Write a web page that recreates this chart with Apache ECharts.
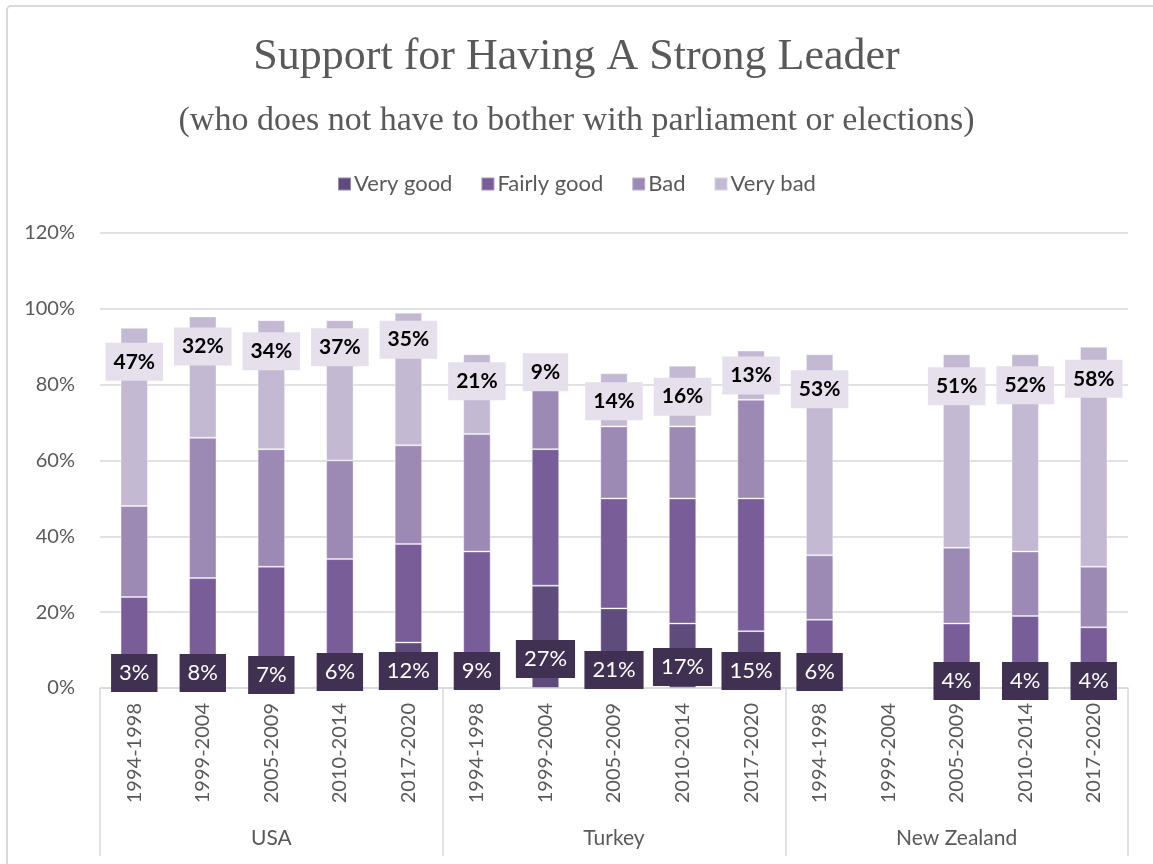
<!DOCTYPE html>
<html>
<head>
<meta charset="utf-8">
<script src="https://cdn.jsdelivr.net/npm/echarts@6/dist/echarts.min.js"></script>
<style>
  html, body { margin: 0; padding: 0; background: #ffffff; }
  #chart { width: 1153px; height: 864px; }
</style>
</head>
<body>
<div id="chart"></div>
<script>
// Periods and countries on the two-level category axis
const countries = ['USA', 'Turkey', 'New Zealand'];
const periods = ['1994-1998', '1999-2004', '2005-2009', '2010-2014', '2017-2020'];

// Shares (%) per country/period, in order USA x5, Turkey x5, New Zealand x5
const veryGood   = [3, 8, 7, 6, 12,   9, 27, 21, 17, 15,   6, null, 4, 4, 4];
const fairlyGood = [21, 21, 25, 28, 26,   27, 36, 29, 33, 35,   12, null, 13, 15, 12];
const bad        = [24, 37, 31, 26, 26,   31, 16, 19, 19, 26,   17, null, 20, 17, 16];
const veryBad    = [47, 32, 34, 37, 35,   21, 9, 14, 16, 13,   53, null, 51, 52, 58];

const yTicks = [0, 20, 40, 60, 80, 100, 120];

// Small vertical nudges (px) for the boxed value labels
const vgLabelShift = [1, 1, 3, 0, -1,   -1, -13, -2, -5, -1,   0, 0, 9, 9, 9];
const vbLabelShift = [4, 0, 1, -3, -3,   -3, -12, -2, 1, -5,   5, 0, 2, 1, 2];

const categories = [];
countries.forEach(() => periods.forEach(p => categories.push(p)));

const COLORS = {
  vg: '#5f4b7c',
  fg: '#785d98',
  bad: '#9c8ab5',
  vb: '#c3b9d3'
};
const FONT = 'Lato, "Noto Sans", sans-serif';
const GREY = '#595959';

function items(values, shifts) {
  return values.map((v, i) => {
    if (v == null) return '-';
    if (!shifts) return v;
    return { value: v, label: { offset: [0, shifts[i]] } };
  });
}

const barCommon = {
  type: 'bar',
  stack: 'total',
  barWidth: '40%',
  xAxisIndex: 0,
  itemStyle: { borderColor: 'rgba(255,255,255,0.35)', borderWidth: 1 }
};

const chart = echarts.init(document.getElementById('chart'), null, { renderer: 'canvas' });

chart.setOption({
  backgroundColor: '#ffffff',
  animation: false,
  title: [
    {
      text: 'Support for Having A Strong Leader',
      left: 'center',
      top: 30,
      textStyle: { fontFamily: '"Liberation Serif", serif', fontSize: 44, fontWeight: 'normal', color: GREY }
    },
    {
      text: '(who does not have to bother with parliament or elections)',
      left: 'center',
      top: 99,
      textStyle: { fontFamily: '"Liberation Serif", serif', fontSize: 34, fontWeight: 'normal', color: GREY }
    }
  ],
  legend: {
    top: 168,
    left: 'center',
    itemWidth: 13,
    itemHeight: 13,
    itemGap: 28,
    icon: 'rect',
    textStyle: { fontFamily: FONT, fontSize: 22, color: GREY, padding: [0, 0, 0, -2] },
    data: ['Very good', 'Fairly good', 'Bad', 'Very bad']
  },
  grid: { left: 100, right: 25, top: 233, bottom: 176, containLabel: false },
  xAxis: [
    {
      type: 'category',
      data: categories,
      position: 'bottom',
      axisLine: { show: true, lineStyle: { color: '#d9d9d9', width: 1.5 } },
      axisTick: { show: false },
      axisLabel: {
        interval: 0,
        rotate: 90,
        margin: 15,
        fontFamily: FONT,
        fontSize: 20,
        color: GREY
      }
    },
    {
      type: 'category',
      data: countries,
      position: 'bottom',
      boundaryGap: true,
      axisLine: { show: false },
      axisTick: { show: true, interval: 0, length: 168, lineStyle: { color: '#d9d9d9', width: 1.5 } },
      axisLabel: {
        interval: 0,
        margin: 140,
        fontFamily: FONT,
        fontSize: 21,
        color: GREY
      },
      splitLine: { show: false }
    }
  ],
  yAxis: {
    type: 'value',
    min: yTicks[0],
    max: yTicks[yTicks.length - 1],
    interval: 20,
    axisLine: { show: false },
    axisTick: { show: false },
    axisLabel: {
      formatter: '{value}%',
      margin: 25,
      fontFamily: FONT,
      fontSize: 20,
      color: GREY
    },
    splitLine: { lineStyle: { color: '#d9d9d9', width: 1.5 } }
  },
  graphic: [
    {
      type: 'rect',
      shape: { x: 7, y: 6, width: 1170, height: 880, r: 4 },
      style: { fill: 'none', stroke: '#d9d9d9', lineWidth: 2 },
      silent: true,
      z: -10
    }
  ],
  series: [
    Object.assign({}, barCommon, {
      name: 'Very good',
      data: items(veryGood, vgLabelShift),
      itemStyle: Object.assign({}, barCommon.itemStyle, { color: COLORS.vg }),
      label: {
        show: true,
        position: 'insideBottom',
        distance: -3,
        formatter: '{c}%',
        fontFamily: FONT,
        fontSize: 22,
        lineHeight: 22,
        color: '#ffffff',
        backgroundColor: '#403052',
        padding: [8, 8, 8, 8]
      },
      z: 3
    }),
    Object.assign({}, barCommon, {
      name: 'Fairly good',
      data: items(fairlyGood),
      itemStyle: Object.assign({}, barCommon.itemStyle, { color: COLORS.fg })
    }),
    Object.assign({}, barCommon, {
      name: 'Bad',
      data: items(bad),
      itemStyle: Object.assign({}, barCommon.itemStyle, { color: COLORS.bad })
    }),
    Object.assign({}, barCommon, {
      name: 'Very bad',
      data: items(veryBad, vbLabelShift),
      itemStyle: Object.assign({}, barCommon.itemStyle, { color: COLORS.vb }),
      label: {
        show: true,
        position: 'insideTop',
        distance: 11,
        formatter: '{c}%',
        fontFamily: FONT,
        fontSize: 21,
        fontWeight: 'bold',
        lineHeight: 22,
        color: '#000000',
        backgroundColor: '#e6e0ed',
        padding: [8, 8, 8, 8]
      }
    })
  ]
});
</script>
</body>
</html>
